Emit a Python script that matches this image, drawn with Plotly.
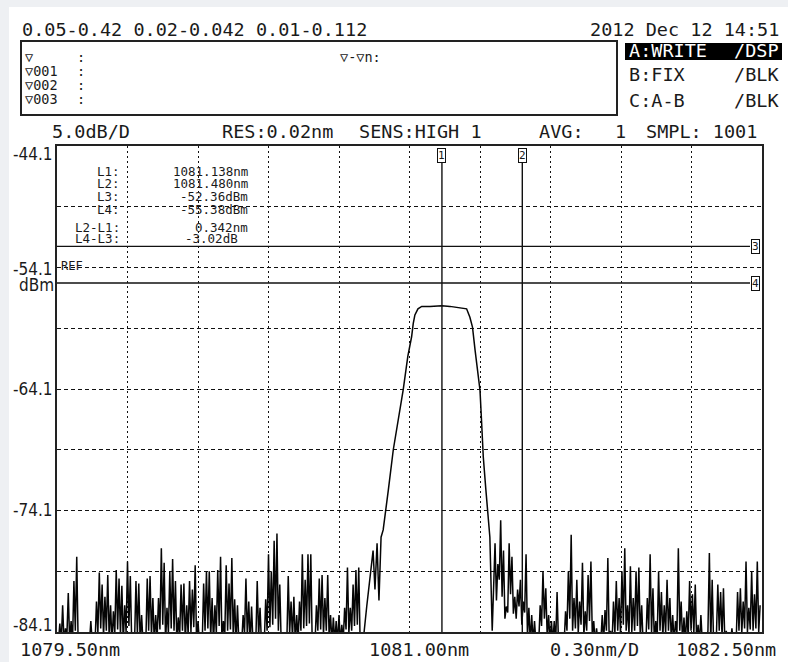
import plotly.graph_objects as go

# ---------------- data ----------------
x_range_nm = [1079.50, 1082.50]
y_range_dbm = [-84.1, -44.1]
x_div_nm = 0.30
y_div_db = 5.0
y_tick_labels = [-44.1, -54.1, -64.1, -74.1, -84.1]

# noise floor left of the filter: spike tops on a uniform grid, and the dips between them
noise_left_start = 1079.500
noise_step = 0.012
noise_left_peak_dbm = [
    -85, -83.4, -81.9, -83.8, -80.9, -83.2, -79.9, -77.9, -85, -85,
    -85, -85, -83.2, -85, -81.6, -79.2, -80.2, -81.2, -79.4, -81.9,
    -82.4, -79.0, -79.7, -80.3, -81.9, -78.3, -79.5, -85, -79.9, -80.1,
    -82.7, -85, -79.7, -79.5, -81.3, -82.7, -81.3, -77.2, -78.4, -82.1,
    -79.1, -78.1, -79.9, -82.9, -80.2, -80.1, -81.9, -79.9, -80.6, -78.6,
    -83.2, -85, -80.1, -79.1, -79.1, -81.3, -81.9, -79.0, -77.9, -83.2,
    -78.6, -80.1, -78.0, -81.4, -81.9, -85, -82.7, -79.7, -81.6, -82.0,
    -85, -79.9, -82.1, -85, -81.4, -77.7, -79.1, -76.6, -76.0, -80.2,
    -85, -85, -79.5, -81.6, -81.2, -82.7, -81.6, -77.7, -79.8, -77.7,
    -77.7, -85, -81.9, -79.7, -79.4, -81.3, -79.4, -82.7, -82.9, -83.2,
    -82.7, -83.5, -82.1, -78.8, -82.1, -80.2, -79.0, -78.8, -85,
]
noise_left_dip_dbm = [
    -85, -85, -85, -84.5, -85, -85, -84.0, -85, -85, -85,
    -85, -85, -85, -85, -84.2, -83.8, -84.5, -84.0, -84.6, -85,
    -84.2, -83.9, -84.4, -85, -84.1, -83.6, -85, -85, -84.3, -85,
    -85, -85, -84.0, -84.4, -85, -84.6, -83.9, -83.5, -85, -84.2,
    -83.8, -84.0, -85, -84.5, -84.0, -85, -84.3, -84.1, -83.7, -85,
    -85, -85, -84.0, -83.8, -84.6, -85, -84.2, -83.6, -85, -84.4,
    -84.0, -83.9, -84.6, -85, -85, -85, -84.2, -84.5, -85, -85,
    -85, -84.5, -85, -85, -84.0, -83.7, -83.5, -83.0, -84.0, -85,
    -85, -85, -84.2, -84.6, -85, -84.8, -84.0, -83.8, -83.6, -83.4,
    -85, -85, -84.0, -83.9, -84.3, -84.0, -84.5, -85, -85, -85,
    -85, -84.8, -83.9, -84.2, -84.0, -83.6, -83.5, -85,
]

# filter passband (read point by point)
filter_nm = [
    1080.802, 1080.818, 1080.832, 1080.845, 1080.853, 1080.862, 1080.870,
    1080.879, 1080.888, 1080.896, 1080.910, 1080.931, 1080.952, 1080.973,
    1080.993, 1081.009, 1081.016, 1081.023, 1081.036, 1081.052, 1081.087,
    1081.138, 1081.172, 1081.215, 1081.243, 1081.257, 1081.268, 1081.279,
    1081.293, 1081.300, 1081.307, 1081.314, 1081.325, 1081.335, 1081.342,
]
filter_dbm = [
    -85.0, -82.0, -79.3, -77.4, -80.6, -76.8, -81.5,
    -76.3, -75.7, -74.6, -72.4, -69.1, -66.7, -64.2,
    -61.4, -59.8, -58.7, -58.0, -57.5, -57.3, -57.3,
    -57.25, -57.3, -57.4, -57.5, -58.2, -59.0, -60.9,
    -63.1, -64.2, -66.9, -69.7, -72.4, -75.2, -76.3,
]

# noise floor right of the filter
noise_right_start = 1081.352
noise_right_peak_dbm = [
    -84.0, -76.8, -78.5, -74.9, -77.4, -82.0, -76.8, -77.9, -81.2, -80.6,
    -79.8, -81.6, -77.7, -82.1, -82.7, -83.2, -85, -81.9, -79.1, -80.5,
    -82.7, -83.2, -83.2, -80.8, -85, -85, -82.4, -79.1, -76.1, -81.3,
    -79.8, -81.6, -78.4, -82.4, -79.4, -78.3, -83.2, -83.8, -85, -82.7,
    -82.3, -78.0, -84.0, -81.6, -79.9, -81.3, -79.1, -77.2, -81.9, -78.7,
    -81.3, -79.1, -78.8, -81.9, -85, -81.3, -77.7, -80.5, -83.2, -79.1,
    -80.8, -81.9, -79.8, -81.3, -82.7, -83.2, -77.2, -81.6, -82.9, -82.4,
    -79.9, -81.0, -80.2, -83.5, -82.7, -85, -85, -77.6, -79.8, -85,
    -80.2, -80.8, -80.5, -84.0, -85, -83.8, -85, -80.8, -80.5, -81.6,
    -78.3, -82.1, -79.1, -81.0, -78.3, -81.9,
]
noise_right_dip_dbm = [
    -80.5, -81.5, -79.8, -81.2, -83.0, -82.5, -81.0, -82.6, -83.0, -82.0,
    -83.5, -82.5, -84.5, -85, -85, -85, -85, -83.6, -83.0, -84.5,
    -85, -85, -85, -85, -85, -85, -84.0, -83.0, -84.0, -83.8,
    -84.2, -83.5, -84.4, -84.0, -83.2, -84.5, -85, -85, -85, -85,
    -84.0, -85, -85, -84.2, -84.0, -84.3, -83.5, -84.0, -84.3, -84.1,
    -84.0, -83.6, -84.6, -85, -85, -83.9, -84.2, -85, -84.6, -84.0,
    -84.5, -84.2, -84.0, -84.8, -85, -84.2, -84.0, -85, -85, -84.5,
    -84.0, -84.2, -85, -85, -85, -85, -84.0, -85, -85, -84.4,
    -84.0, -84.5, -85, -85, -85, -85, -85, -84.0, -84.2, -83.8,
    -84.1, -83.9, -84.0, -83.8, -84.1,
]

# line markers
marker_L1_nm = 1081.138
marker_L2_nm = 1081.480
marker_L3_dbm = -52.36
marker_L4_dbm = -55.38

readout_labels = ["L1", "L2", "L3", "L4", "L2-L1", "L4-L3"]
readout_values = ["1081.138nm", "1081.480nm", "-52.36dBm", "-55.38dBm", "0.342nm", "-3.02dB"]

header_top = "0.05-0.42 0.02-0.042 0.01-0.112"
date_text = "2012 Dec 12 14:51"
trace_rows = [("A:WRITE", "/DSP"), ("B:FIX", "/BLK"), ("C:A-B", "/BLK")]
marker_rows = ["▽", "▽001", "▽002", "▽003"]


# ---------------- build trace ----------------
def interleave(start, peaks, dips):
    xs, ys = [], []
    for i, p in enumerate(peaks):
        xs.append(start + noise_step * i)
        ys.append(p)
        if i < len(dips):
            xs.append(start + noise_step * (i + 0.5))
            ys.append(dips[i])
    return xs, ys

xl, yl = interleave(noise_left_start, noise_left_peak_dbm, noise_left_dip_dbm)
xr, yr = interleave(noise_right_start, noise_right_peak_dbm, noise_right_dip_dbm)
wl = xl + filter_nm + xr
pw = yl + filter_dbm + yr

# ---------------- layout helpers (pixel -> paper) ----------------
L, R, T, B = 57, 762, 146, 632
W, H = 788, 662
def PX(x):
    return (x - L) / (R - L)
def PY(y):
    return (B - y) / (B - T)

MONO = "DejaVu Sans Mono"
NARROW = "Liberation Sans Narrow, DejaVu Sans Condensed, Liberation Sans, sans-serif"
INK = "#1a1a1a"

fig = go.Figure()
fig.add_trace(go.Scatter(x=wl, y=pw, mode="lines",
                         line=dict(color="#050505", width=1.5),
                         hoverinfo="skip", showlegend=False))

fig.update_layout(
    width=W, height=H,
    margin=dict(l=L, r=W - R, t=T, b=H - B),
    paper_bgcolor="white", plot_bgcolor="white",
    showlegend=False,
)
axis_common = dict(showgrid=True, gridcolor="#111111", gridwidth=1.2,
                   showline=True, linecolor="#222222", linewidth=2, mirror=True,
                   zeroline=False, showticklabels=False, ticks="", fixedrange=True)
fig.update_xaxes(range=x_range_nm, tick0=x_range_nm[0], dtick=x_div_nm,
                 griddash="2px,3px", **axis_common)
fig.update_yaxes(range=y_range_dbm, tick0=y_range_dbm[1], dtick=y_div_db,
                 griddash="4px,3px", **axis_common)

shapes = []
# faint frame strips
shapes.append(dict(type="rect", xref="paper", yref="paper", x0=PX(0), x1=PX(W), y0=PY(7), y1=PY(0),
                   fillcolor="#eef0f3", line=dict(width=0), layer="below"))
shapes.append(dict(type="rect", xref="paper", yref="paper", x0=PX(0), x1=PX(9), y0=PY(H), y1=PY(0),
                   fillcolor="#eef0f3", line=dict(width=0), layer="below"))
# marker info box
shapes.append(dict(type="rect", xref="paper", yref="paper", x0=PX(21), x1=PX(617), y0=PY(115), y1=PY(41),
                   line=dict(color="#222222", width=2)))
# highlighted trace A
shapes.append(dict(type="rect", xref="paper", yref="paper", x0=PX(625), x1=PX(782), y0=PY(60), y1=PY(43),
                   fillcolor="#000000", line=dict(width=0)))
# vertical line markers
for wv in (marker_L1_nm, marker_L2_nm):
    shapes.append(dict(type="line", xref="x", yref="paper", x0=wv, x1=wv, y0=0, y1=PY(162),
                       line=dict(color="#111111", width=1.4)))
# horizontal line markers
for lv in (marker_L3_dbm, marker_L4_dbm):
    shapes.append(dict(type="line", xref="paper", yref="y", x0=0, x1=PX(750), y0=lv, y1=lv,
                       line=dict(color="#111111", width=1.4)))
fig.update_layout(shapes=shapes)

ann = []
def text(x, y, s, size=18.5, anchor="left", color=INK, family=MONO, yanchor="middle"):
    ann.append(dict(xref="paper", yref="paper", x=PX(x), y=PY(y), text=s, showarrow=False,
                    xanchor=anchor, yanchor=yanchor, font=dict(family=family, size=size, color=color)))

# top line and date
text(20, 29, header_top)
text(781, 29, date_text, anchor="right")
# marker list box
for k, s in enumerate(marker_rows):
    yy = 57 + 14 * k
    text(23, yy, s, size=13.5)
    text(75, yy, ":", size=13.5)
text(338, 57, "▽-▽n:", size=13.5)
# trace status
row_y = [51, 75, 100]
for (lbl, st), yy in zip(trace_rows, row_y):
    col = "white" if lbl.startswith("A") else INK
    text(627, yy, lbl, color=col)
    text(781, yy, st, anchor="right", color=col)
# settings row
text(50, 131, "%.1fdB/D" % y_div_db)
text(220, 131, "RES:0.02nm")
text(357, 131, "SENS:HIGH 1")
text(537, 131, "AVG:")
text(620, 131, "1", anchor="center")
text(759, 131, "SMPL: 1001", anchor="right")
# y labels
ylab_y = {-44.1: 154, -54.1: 268.5, -64.1: 389, -74.1: 510, -84.1: 625}
for v in y_tick_labels:
    text(55, ylab_y[v], "%.1f" % v, size=17, anchor="right", family=NARROW)
text(56, 285, "dBm", size=17, anchor="right", family=NARROW)
text(59, 266, "REF", size=12)
# x labels
text(18, 649, "%.2fnm" % x_range_nm[0])
text(471, 649, "%.2fnm" % ((x_range_nm[0] + x_range_nm[1]) / 2), anchor="right")
text(548, 649, "%.2fnm/D" % x_div_nm)
text(778, 649, "%.2fnm" % x_range_nm[1], anchor="right")
# readout
ro_y = [171.7, 183.3, 196.7, 209.3, 227.3, 238.3]
for lbl, val, yy in zip(readout_labels, readout_values, ro_y):
    text(122, yy, lbl + ":", size=12.5, anchor="right")
    pad = 240 if val.endswith("dB") else 250
    text(pad, yy, val, size=12.5, anchor="right")

# boxed marker numbers
def boxnum(xref, x, yref, y, s):
    ann.append(dict(xref=xref, yref=yref, x=x, y=y, text=s, showarrow=False,
                    xanchor="center", yanchor="middle", bgcolor="white",
                    bordercolor="#111111", borderwidth=1, borderpad=0,
                    font=dict(family=MONO, size=11, color=INK)))
boxnum("x", marker_L1_nm, "paper", PY(155.5), "1")
boxnum("x", marker_L2_nm, "paper", PY(155.5), "2")
boxnum("paper", PX(755), "y", marker_L3_dbm, "3")
boxnum("paper", PX(755), "y", marker_L4_dbm, "4")

fig.update_layout(annotations=ann)
fig.write_html("out.html",
               config={"displayModeBar": False},
               post_script="document.body.style.margin='0';document.body.style.padding='0';")
